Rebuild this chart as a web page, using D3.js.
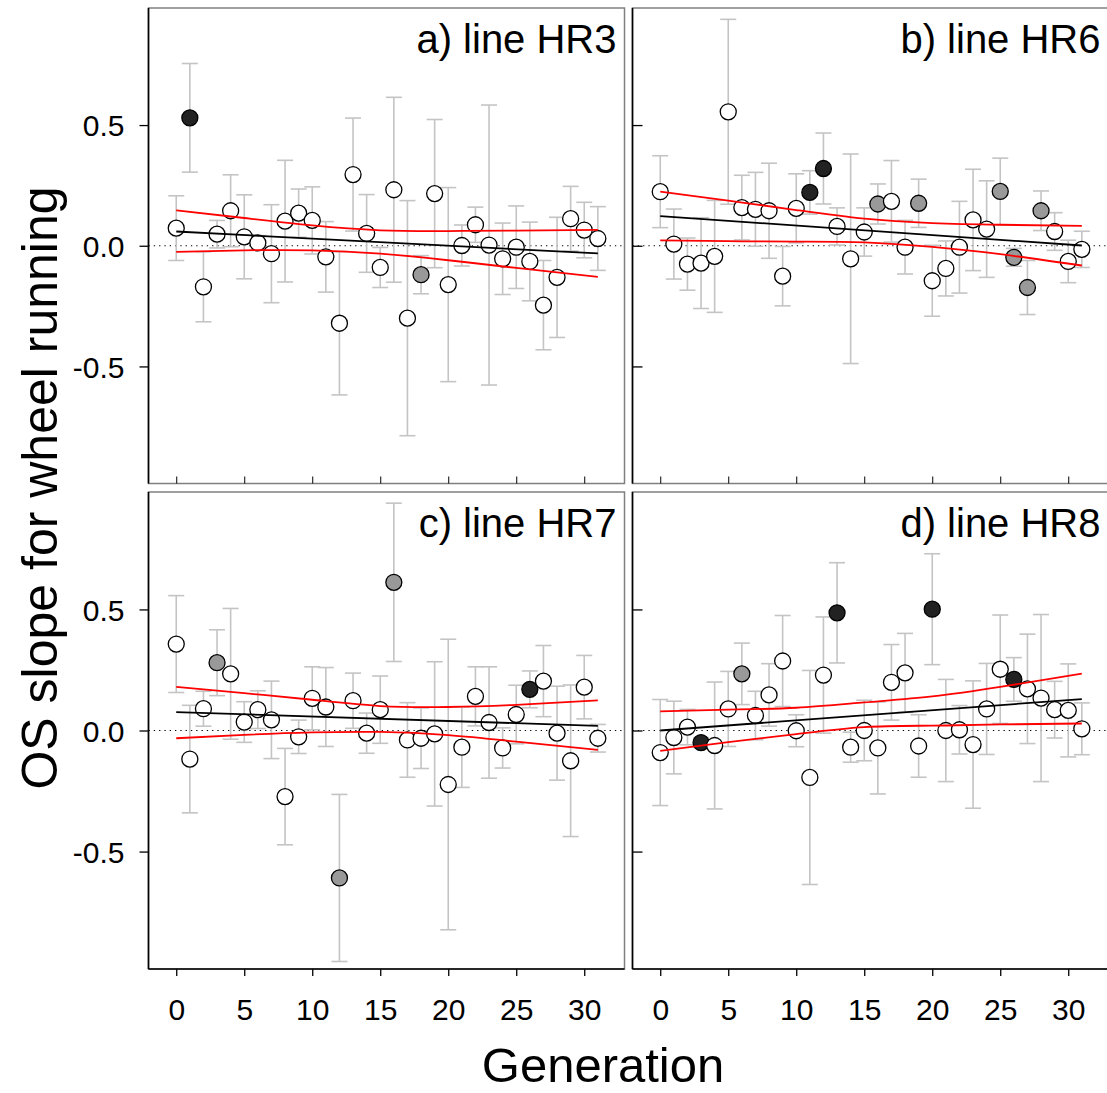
<!DOCTYPE html>
<html>
<head>
<meta charset="utf-8">
<script src="https://cdn.jsdelivr.net/npm/d3@7"></script>
<style>
body { margin: 0; background: #fff; }
text { font-family: "Liberation Sans", Arial, sans-serif; fill: #000; }
</style>
</head>
<body>
<script>
// data
const generations = [0,1,2,3,4,5,6,7,8,9,10,11,12,13,14,15,16,17,18,19,20,21,22,23,24,25,26,27,28,29,30,31];
const panelTitles = ['a) line HR3', 'b) line HR6', 'c) line HR7', 'd) line HR8'];
const xTicks = [0, 5, 10, 15, 20, 25, 30];
const yTicks = [-0.5, 0, 0.5];

const hr3Slope = [0.073, 0.530, -0.170, 0.048, 0.145, 0.037, 0.012, -0.033, 0.102, 0.135, 0.105, -0.046, -0.321, 0.295, 0.051, -0.090, 0.232, -0.300, -0.120, 0.216, -0.161, 0.001, 0.087, 0.003, -0.054, -0.006, -0.065, -0.246, -0.131, 0.112, 0.065, 0.030];
const hr3SE = [0.134, 0.225, 0.145, 0.057, 0.149, 0.174, 0.030, 0.203, 0.252, 0.100, 0.139, 0.146, 0.297, 0.234, 0.161, 0.083, 0.383, 0.487, 0.079, 0.307, 0.402, 0.085, 0.073, 0.580, 0.148, 0.171, 0.163, 0.185, 0.249, 0.134, 0.115, 0.132];
const hr3Group = [0,2,0,0,0,0,0,0,0,0, 0,0,0,0,0,0,0,0,1,0, 0,0,0,0,0,0,0,0,0,0, 0,0];

const hr6Slope = [0.224, 0.007, -0.076, -0.072, -0.044, 0.555, 0.158, 0.151, 0.145, -0.126, 0.155, 0.221, 0.320, 0.080, -0.054, 0.057, 0.173, 0.184, -0.006, 0.176, -0.145, -0.094, -0.006, 0.107, 0.069, 0.225, -0.048, -0.173, 0.145, 0.059, -0.065, -0.015];
const hr6SE = [0.149, 0.145, 0.108, 0.188, 0.232, 0.383, 0.134, 0.153, 0.197, 0.123, 0.143, 0.090, 0.147, 0.077, 0.434, 0.100, 0.083, 0.169, 0.111, 0.100, 0.147, 0.114, 0.190, 0.210, 0.200, 0.138, 0.037, 0.112, 0.082, 0.078, 0.088, 0.075];
const hr6Group = [0,0,0,0,0,0,0,0,0,0, 0,2,2,0,0,0,1,0,0,1, 0,0,0,0,0,1,1,1,1,0, 0,0];

const hr7Slope = [0.357, -0.118, 0.090, 0.280, 0.234, 0.035, 0.086, 0.044, -0.273, -0.026, 0.133, 0.097, -0.609, 0.123, -0.011, 0.086, 0.612, -0.039, -0.032, -0.014, -0.223, -0.069, 0.141, 0.033, -0.072, 0.066, 0.170, 0.204, -0.011, -0.125, 0.179, -0.032];
const hr7SE = [0.200, 0.222, 0.072, 0.136, 0.270, 0.084, 0.078, 0.160, 0.199, 0.069, 0.130, 0.163, 0.345, 0.114, 0.083, 0.139, 0.327, 0.154, 0.125, 0.298, 0.600, 0.166, 0.122, 0.230, 0.083, 0.121, 0.076, 0.147, 0.194, 0.313, 0.131, 0.057];
const hr7Group = [0,0,0,1,0,0,0,0,0,0, 0,0,1,0,0,0,1,0,0,0, 0,0,0,0,0,0,2,0,0,0, 0,0];

const hr8Slope = [-0.091, -0.029, 0.014, -0.050, -0.062, 0.089, 0.234, 0.062, 0.147, 0.287, -0.001, -0.194, 0.229, 0.486, -0.069, 0.000, -0.072, 0.199, 0.238, -0.064, 0.501, 0.000, 0.003, -0.058, 0.089, 0.253, 0.211, 0.172, 0.134, 0.086, 0.083, 0.007];
const hr8SE = [0.219, 0.150, 0.073, 0.020, 0.262, 0.155, 0.127, 0.100, 0.129, 0.188, 0.066, 0.442, 0.240, 0.207, 0.062, 0.125, 0.190, 0.156, 0.163, 0.129, 0.229, 0.211, 0.100, 0.263, 0.188, 0.224, 0.090, 0.226, 0.345, 0.117, 0.192, 0.107];
const hr8Group = [0,0,0,2,0,0,1,0,0,0, 0,0,0,2,0,0,0,0,0,0, 2,0,0,0,0,0,2,0,0,0, 0,0];

// regression line ends and confidence band samples
const fitGens = [0, 31];
const bandGens = [0, 5, 10, 15, 20, 25, 31];
const hr3Fit = [0.059, -0.032];
const hr3Upper = [0.147, 0.115, 0.084, 0.064, 0.061, 0.063, 0.066];
const hr3Lower = [-0.025, -0.019, -0.019, -0.033, -0.060, -0.092, -0.129];
const hr6Fit = [0.123, 0.001];
const hr6Upper = [0.224, 0.187, 0.148, 0.112, 0.094, 0.087, 0.082];
const hr6Lower = [0.022, 0.019, 0.017, 0.014, -0.005, -0.035, -0.082];
const hr7Fit = [0.076, 0.019];
const hr7Upper = [0.180, 0.154, 0.127, 0.101, 0.097, 0.106, 0.124];
const hr7Lower = [-0.032, -0.018, -0.008, -0.006, -0.019, -0.046, -0.080];
const hr8Fit = [0.000, 0.130];
const hr8Upper = [0.079, 0.086, 0.094, 0.116, 0.141, 0.180, 0.235];
const hr8Lower = [-0.084, -0.048, -0.015, 0.014, 0.020, 0.025, 0.029];

const width = 1107, height = 1093;
const fills = ['#ffffff', '#999999', '#222222'];
const svg = d3.select('body').append('svg')
    .attr('width', width).attr('height', height);

const panels = [
    {title: panelTitles[0], v: hr3Slope, se: hr3SE, grp: hr3Group, fit: hr3Fit, up: hr3Upper, lo: hr3Lower, col: 0, row: 0},
    {title: panelTitles[1], v: hr6Slope, se: hr6SE, grp: hr6Group, fit: hr6Fit, up: hr6Upper, lo: hr6Lower, col: 1, row: 0},
    {title: panelTitles[2], v: hr7Slope, se: hr7SE, grp: hr7Group, fit: hr7Fit, up: hr7Upper, lo: hr7Lower, col: 0, row: 1},
    {title: panelTitles[3], v: hr8Slope, se: hr8SE, grp: hr8Group, fit: hr8Fit, up: hr8Upper, lo: hr8Lower, col: 1, row: 1}
];

const lefts = [148.5, 632.5];
const rows = [{top: 8, bottom: 483.5}, {top: 492, bottom: 969}];
const panelW = 476;

const x = d3.scaleLinear().domain([-2.04, 32.96]).range([0, panelW]);

panels.forEach(p => {
    const r = rows[p.row];
    const h = r.bottom - r.top;
    const y = d3.scaleLinear().domain([-0.985, 0.985]).range([h, 0]);
    const g = svg.append('g').attr('transform', `translate(${lefts[p.col]}, ${r.top})`);
    const pts = generations.map((gen, i) => ({gen, v: p.v[i], se: p.se[i], grp: p.grp[i]}));

    // frame
    g.append('rect')
        .attr('width', panelW).attr('height', h)
        .attr('fill', 'none').attr('stroke', '#808080').attr('stroke-width', 1.5);

    // zero reference
    g.append('line')
        .attr('x1', 0).attr('x2', panelW)
        .attr('y1', y(0)).attr('y2', y(0))
        .attr('stroke', '#000').attr('stroke-width', 1.2)
        .attr('stroke-dasharray', '1.3,4');

    // error bars
    const eb = g.append('g').attr('stroke', '#c4c4c4').attr('stroke-width', 1.6);
    eb.selectAll('line.v').data(pts).enter().append('line')
        .attr('x1', d => x(d.gen)).attr('x2', d => x(d.gen))
        .attr('y1', d => y(d.v - d.se)).attr('y2', d => y(d.v + d.se));
    eb.selectAll('line.t').data(pts).enter().append('line')
        .attr('x1', d => x(d.gen) - 8).attr('x2', d => x(d.gen) + 8)
        .attr('y1', d => y(d.v + d.se)).attr('y2', d => y(d.v + d.se));
    eb.selectAll('line.b').data(pts).enter().append('line')
        .attr('x1', d => x(d.gen) - 8).attr('x2', d => x(d.gen) + 8)
        .attr('y1', d => y(d.v - d.se)).attr('y2', d => y(d.v - d.se));

    // points
    g.selectAll('circle').data(pts).enter().append('circle')
        .attr('cx', d => x(d.gen)).attr('cy', d => y(d.v))
        .attr('r', 8)
        .attr('fill', d => fills[d.grp])
        .attr('stroke', '#000').attr('stroke-width', 1.3);

    // regression + confidence band
    const band = d3.line().x(d => x(d[0])).y(d => y(d[1])).curve(d3.curveNatural);
    g.append('path')
        .attr('d', band(bandGens.map((gen, i) => [gen, p.up[i]])))
        .attr('fill', 'none').attr('stroke', '#ff0000').attr('stroke-width', 1.8);
    g.append('path')
        .attr('d', band(bandGens.map((gen, i) => [gen, p.lo[i]])))
        .attr('fill', 'none').attr('stroke', '#ff0000').attr('stroke-width', 1.8);
    g.append('path')
        .attr('d', d3.line().x(d => x(d[0])).y(d => y(d[1]))(fitGens.map((gen, i) => [gen, p.fit[i]])))
        .attr('fill', 'none').attr('stroke', '#000').attr('stroke-width', 1.8);

    // left axis
    let yAxis;
    if (p.col === 0) {
        yAxis = d3.axisLeft(y).tickValues(yTicks).tickSize(9).tickPadding(15)
            .tickFormat(d => d.toFixed(1));
    } else {
        yAxis = d3.axisRight(y).tickValues(yTicks).tickSize(10).tickFormat('');
    }
    const ya = g.append('g').call(yAxis);
    ya.select('.domain').remove();
    ya.selectAll('line').attr('stroke', '#000').attr('stroke-width', 1.3);
    ya.selectAll('text').style('font-size', '30px').attr('dy', '0.36em')
        .style('font-family', '"Liberation Sans", Arial, sans-serif');
    g.append('line')
        .attr('x1', 0).attr('x2', 0).attr('y1', 0).attr('y2', h)
        .attr('stroke', '#000').attr('stroke-width', 1.6);

    // bottom axis
    if (p.row === 1) {
        const xa = g.append('g').attr('transform', `translate(0, ${h})`)
            .call(d3.axisBottom(x).tickValues(xTicks).tickSize(7).tickPadding(44));
        xa.select('.domain').remove();
        xa.selectAll('line').attr('stroke', '#000').attr('stroke-width', 1.3);
        xa.selectAll('text').style('font-size', '30px').attr('dy', '0')
            .style('font-family', '"Liberation Sans", Arial, sans-serif');
        g.append('line')
            .attr('x1', 0).attr('x2', panelW).attr('y1', h).attr('y2', h)
            .attr('stroke', '#000').attr('stroke-width', 1.6);
    } else {
        const xa = g.append('g').attr('transform', `translate(0, ${h})`)
            .call(d3.axisTop(x).tickValues(xTicks).tickSize(7).tickFormat(''));
        xa.select('.domain').remove();
        xa.selectAll('line').attr('stroke', '#000').attr('stroke-width', 1);
    }

    // panel title
    g.append('text')
        .attr('x', panelW - 8).attr('y', 45)
        .attr('text-anchor', 'end')
        .style('font-size', '40px')
        .text(p.title);
});

// axis titles
svg.append('text')
    .attr('x', 603).attr('y', 1082)
    .attr('text-anchor', 'middle')
    .style('font-size', '49px')
    .text('Generation');

svg.append('text')
    .attr('transform', 'translate(57, 488) rotate(-90)')
    .attr('text-anchor', 'middle')
    .style('font-size', '50px')
    .text('OS slope for wheel running');
</script>
</body>
</html>
